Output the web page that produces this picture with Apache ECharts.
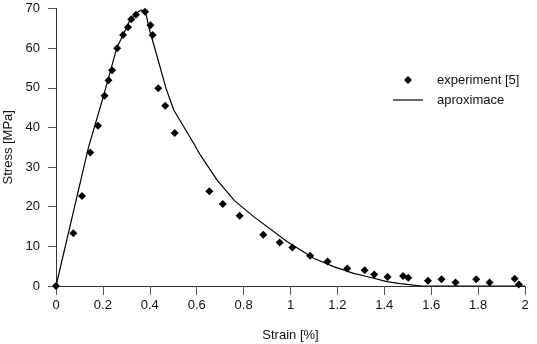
<!DOCTYPE html>
<html>
<head>
<meta charset="utf-8">
<script src="https://cdn.jsdelivr.net/npm/echarts@6/dist/echarts.min.js"></script>
<style>html,body{margin:0;padding:0;background:#fff}#c{width:537px;height:344px}</style>
</head>
<body>
<div id="c"></div>
<script>
var experimentStrain = [0, 0.074, 0.111, 0.146, 0.179, 0.207, 0.224, 0.239, 0.261, 0.286, 0.307, 0.321, 0.341, 0.380, 0.403, 0.412, 0.436, 0.466, 0.506, 0.654, 0.711, 0.783, 0.884, 0.954, 1.008, 1.084, 1.158, 1.242, 1.316, 1.357, 1.414, 1.480, 1.502, 1.586, 1.644, 1.704, 1.792, 1.849, 1.956, 1.974];
var experimentStress = [0, 13.3, 22.7, 33.7, 40.4, 48.0, 51.9, 54.4, 60.0, 63.3, 65.3, 67.3, 68.4, 69.2, 65.8, 63.3, 49.9, 45.5, 38.6, 23.9, 20.7, 17.7, 12.9, 11.0, 9.7, 7.6, 6.2, 4.4, 4.0, 2.9, 2.3, 2.5, 2.1, 1.3, 1.7, 0.9, 1.7, 0.9, 1.8, 0.4];
var fitStrain = [0, 0.139, 0.203, 0.259, 0.317, 0.331, 0.345, 0.357, 0.366, 0.376, 0.385, 0.395, 0.423, 0.469, 0.502, 0.587, 0.616, 0.687, 0.760, 0.843, 0.985, 1.099, 1.184, 1.269, 1.326, 1.411, 1.468, 1.525, 1.56, 2.0];
var fitStress = [0, 35.1, 48.0, 60.0, 67.3, 67.9, 68.9, 69.4, 69.6, 69.4, 68.3, 65.4, 59.6, 49.9, 44.4, 36.0, 33.0, 26.7, 21.6, 17.5, 11.2, 7.0, 4.9, 3.2, 2.4, 1.1, 0.6, 0.2, 0, 0];
var xTicks = {min: 0, max: 2, interval: 0.2};
var yTicks = {min: 0, max: 70, interval: 10};

function pairs(xs, ys) { return xs.map(function (x, i) { return [x, ys[i]]; }); }

var font = 'Liberation Sans';
var chart = echarts.init(document.getElementById('c'), null, {renderer: 'canvas'});
chart.setOption({
  animation: false,
  backgroundColor: '#fff',
  grid: {left: 56, right: 12, top: 8.5, bottom: 58, containLabel: false, outerBoundsMode: 'none'},
  legend: {
    orient: 'vertical',
    left: 388, top: 68,
    itemWidth: 30, itemHeight: 8, itemGap: 6,
    symbolKeepAspect: true,
    textStyle: {fontFamily: font, fontSize: 13, color: '#111', padding: [0, 0, 0, 9], lineHeight: 14},
    data: [
      {name: 'experiment [5]', icon: 'path://M0,-1L1,0L0,1L-1,0Z'},
      {name: 'aproximace', icon: 'path://M0,0L30,0L30,1.2L0,1.2Z'}
    ]
  },
  xAxis: {
    type: 'value', min: xTicks.min, max: xTicks.max, interval: xTicks.interval,
    name: 'Strain [%]', nameLocation: 'middle', nameGap: 43,
    nameTextStyle: {fontFamily: font, fontSize: 13, color: '#111'},
    axisLine: {show: true, onZero: false, lineStyle: {color: '#333', width: 1}},
    axisTick: {show: true, length: 9, lineStyle: {color: '#555'}},
    axisLabel: {fontFamily: font, fontSize: 13, color: '#111', margin: 13},
    splitLine: {show: false}
  },
  yAxis: {
    type: 'value', min: yTicks.min, max: yTicks.max, interval: yTicks.interval,
    name: 'Stress [MPa]', nameLocation: 'middle', nameGap: 38, nameRotate: 90,
    nameTextStyle: {fontFamily: font, fontSize: 13, color: '#111'},
    axisLine: {show: true, onZero: false, lineStyle: {color: '#333', width: 1}},
    axisTick: {show: true, length: 8, lineStyle: {color: '#555'}},
    axisLabel: {fontFamily: font, fontSize: 13, color: '#111', margin: 16},
    splitLine: {show: false}
  },
  series: [
    {
      name: 'experiment [5]', type: 'scatter',
      symbol: 'diamond', symbolSize: 8,
      itemStyle: {color: '#000', opacity: 1},
      data: pairs(experimentStrain, experimentStress),
      z: 3
    },
    {
      name: 'aproximace', type: 'line',
      symbol: 'none', showSymbol: false, smooth: false,
      lineStyle: {color: '#000', width: 1.2},
      itemStyle: {color: '#000'},
      data: pairs(fitStrain, fitStress),
      z: 2
    }
  ]
});
</script>
</body>
</html>
